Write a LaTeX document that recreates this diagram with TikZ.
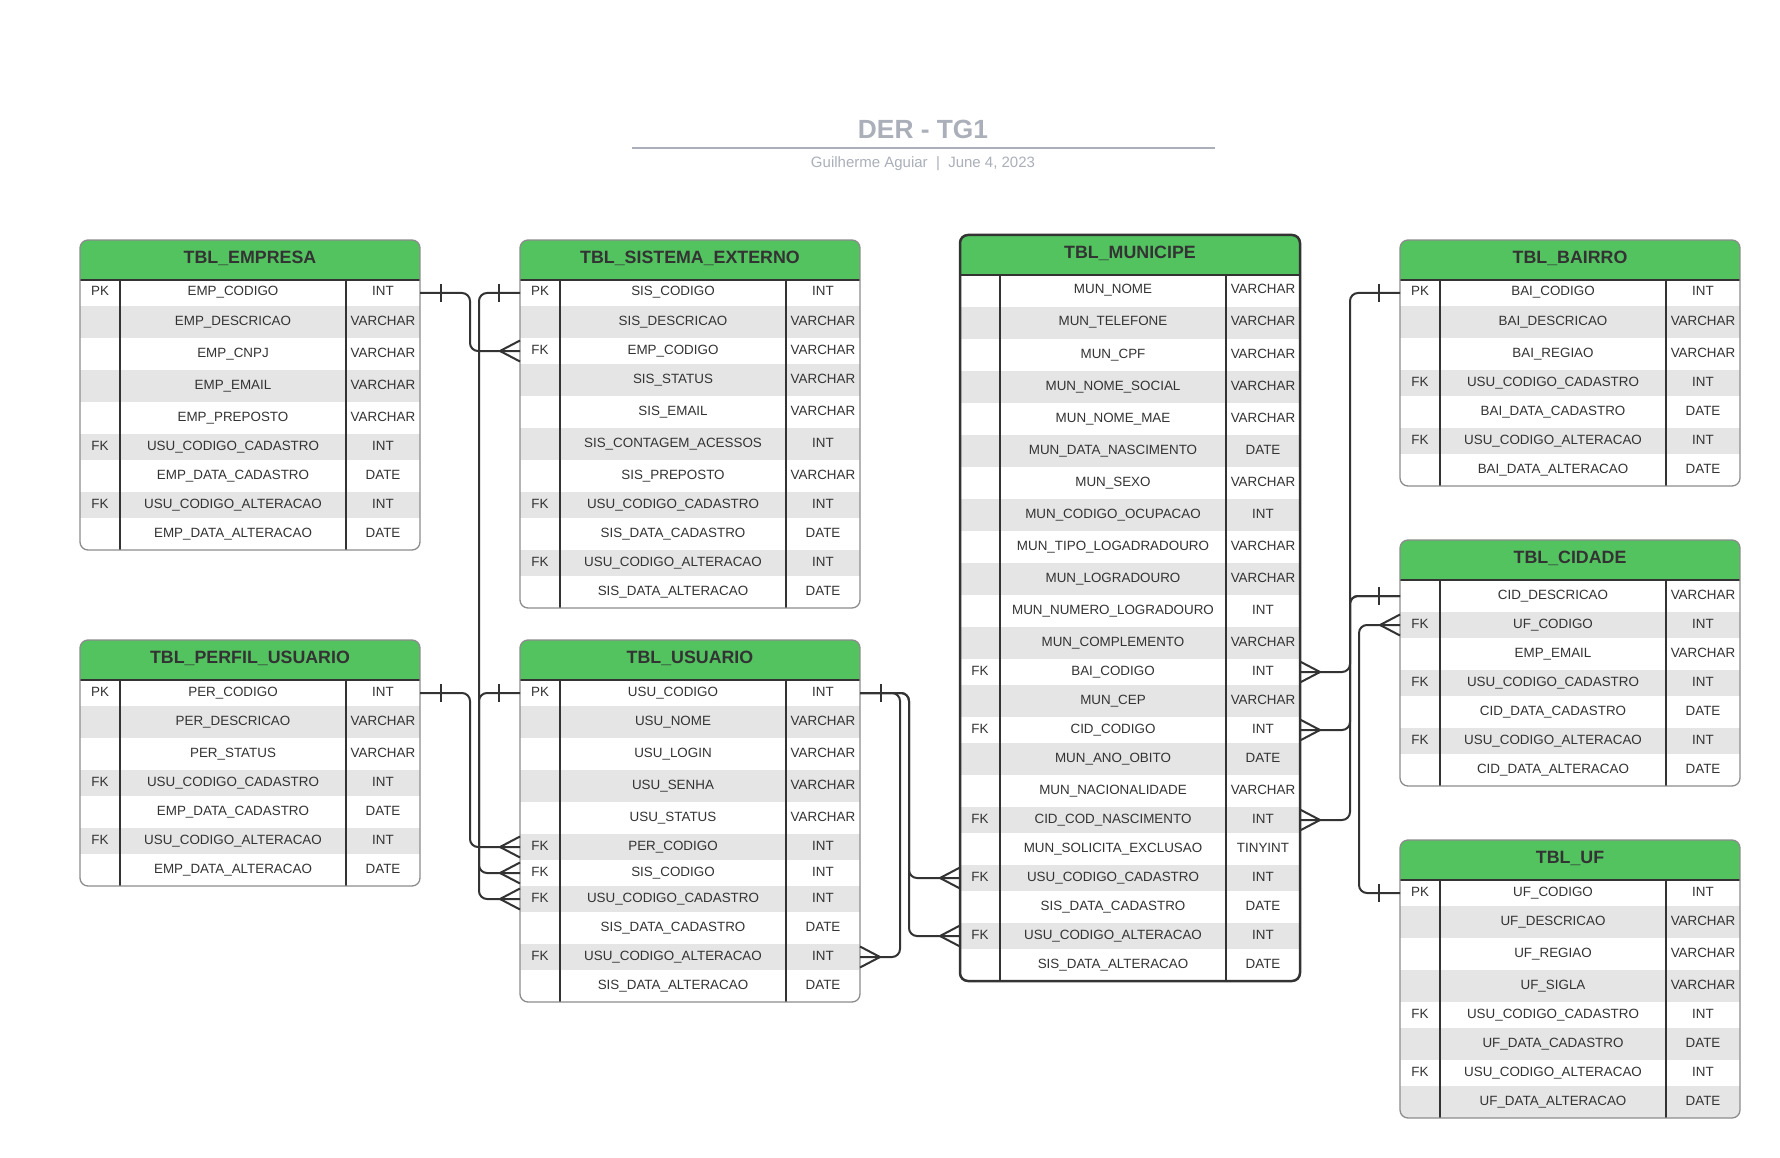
\documentclass[tikz,border=0pt]{standalone}
\usepackage{fontspec}
\setmainfont{Liberation Sans}
\usetikzlibrary{calc}

\definecolor{hdrgreen}{RGB}{83,195,96}
\definecolor{rowgrey}{RGB}{229,229,229}
\definecolor{ink}{RGB}{51,51,51}
\definecolor{tblgrey}{RGB}{140,140,140}
\definecolor{titlegrey}{RGB}{170,175,185}

% table: [border style]{name}{x}{y}{title}{key/field/type, ...}
\newcommand{\ertable}[6][tblline]{%
  \xdef\tblbot{\the\numexpr#4+40\relax}%
  \foreach \k/\f/\t in {#6}{%
    \def\h{26}\if\relax\detokenize\expandafter{\k}\relax\def\h{32}\fi
    \xdef\tblbot{\the\numexpr\tblbot+\h\relax}}%
  \begin{scope}
    \clip[rounded corners=8] (#3,#4) rectangle (#3+340,\tblbot);
    \fill[hdrgreen] (#3,#4) rectangle (#3+340,#4+40);
    \xdef\rowtop{\the\numexpr#4+40\relax}%
    \foreach \k/\f/\t [count=\i] in {#6}{%
      \def\h{26}\if\relax\detokenize\expandafter{\k}\relax\def\h{32}\fi
      \ifodd\i\def\rc{white}\else\def\rc{rowgrey}\fi
      \node[rowbox, fill=\rc, minimum height=\h] (#2\i) at (#3+170,\rowtop+\h/2) {};
      \node[cell] (#2\i-k) at ($(#2\i.center)+(-150,3)$) {\k};
      \node[cell] (#2\i-f) at ($(#2\i.center)+(-17,3)$) {\f};
      \node[cell] (#2\i-t) at ($(#2\i.center)+(133,3)$) {\t};
      \xdef\rowtop{\the\numexpr\rowtop+\h\relax}}%
  \end{scope}
  \node[tbltitle] (#2-title) at (#3+170,#4+23.4) {#5};
  \draw[coldiv] (#3,#4+40) -- (#3+340,#4+40)
    (#3+40,#4+40) -- (#3+40,\tblbot) (#3+266,#4+40) -- (#3+266,\tblbot);
  \draw[#1, rounded corners=8] (#3,#4) rectangle (#3+340,\tblbot);
}
% ends of a relationship
\newcommand{\onemark}[2]{\draw[ermark] ($(#1)+(#2*21,-9)$) -- ++(0,18);}
\newcommand{\manymark}[2]{\draw[ermark] ($(#1)+(0,-10.5)$) -- ($(#1)+(#2*20,0)$) -- ($(#1)+(0,10.5)$);}

\begin{document}
\begin{tikzpicture}[x=1pt, y=-1pt,
    cell/.style={inner sep=0, anchor=base, text=ink, font=\fontsize{13.4}{16}\selectfont},
    rowbox/.style={rectangle, inner sep=0, outer sep=0, minimum width=340},
    tbltitle/.style={inner sep=0, anchor=base, text=ink, font=\bfseries\fontsize{17.8}{20}\selectfont},
    tblline/.style={draw=tblgrey, line width=1.3},
    tblsel/.style={draw=ink, line width=2.5},
    coldiv/.style={draw=ink, line width=1.2},
    conn/.style={draw=ink, line width=2, rounded corners=8},
    ermark/.style={draw=ink, line width=2}]
  \fill[white] (0,0) rectangle (1780,1158);
  \useasboundingbox (0,0) rectangle (1780,1158);

  \node[anchor=base, text=titlegrey, font=\bfseries\fontsize{26.3}{30}\selectfont] (title) at (923,138.4) {DER - TG1};
  \draw[titlegrey, line width=2] (632,147.6) -- (1215,147.6);
  \node[anchor=base, text=titlegrey, font=\fontsize{15}{18}\selectfont] (author) at (923,168) {Guilherme Aguiar~~|~~June 4, 2023};

  \ertable{emp}{80}{240}{TBL\_EMPRESA}{%
    PK/EMP\_CODIGO/INT,
    /EMP\_DESCRICAO/VARCHAR,
    /EMP\_CNPJ/VARCHAR,
    /EMP\_EMAIL/VARCHAR,
    /EMP\_PREPOSTO/VARCHAR,
    FK/USU\_CODIGO\_CADASTRO/INT,
    /EMP\_DATA\_CADASTRO/DATE,
    FK/USU\_CODIGO\_ALTERACAO/INT,
    /EMP\_DATA\_ALTERACAO/DATE}
  \ertable{sis}{520}{240}{TBL\_SISTEMA\_EXTERNO}{%
    PK/SIS\_CODIGO/INT,
    /SIS\_DESCRICAO/VARCHAR,
    FK/EMP\_CODIGO/VARCHAR,
    /SIS\_STATUS/VARCHAR,
    /SIS\_EMAIL/VARCHAR,
    /SIS\_CONTAGEM\_ACESSOS/INT,
    /SIS\_PREPOSTO/VARCHAR,
    FK/USU\_CODIGO\_CADASTRO/INT,
    /SIS\_DATA\_CADASTRO/DATE,
    FK/USU\_CODIGO\_ALTERACAO/INT,
    /SIS\_DATA\_ALTERACAO/DATE}
  \ertable{per}{80}{640}{TBL\_PERFIL\_USUARIO}{%
    PK/PER\_CODIGO/INT,
    /PER\_DESCRICAO/VARCHAR,
    /PER\_STATUS/VARCHAR,
    FK/USU\_CODIGO\_CADASTRO/INT,
    /EMP\_DATA\_CADASTRO/DATE,
    FK/USU\_CODIGO\_ALTERACAO/INT,
    /EMP\_DATA\_ALTERACAO/DATE}
  \ertable{usu}{520}{640}{TBL\_USUARIO}{%
    PK/USU\_CODIGO/INT,
    /USU\_NOME/VARCHAR,
    /USU\_LOGIN/VARCHAR,
    /USU\_SENHA/VARCHAR,
    /USU\_STATUS/VARCHAR,
    FK/PER\_CODIGO/INT,
    FK/SIS\_CODIGO/INT,
    FK/USU\_CODIGO\_CADASTRO/INT,
    /SIS\_DATA\_CADASTRO/DATE,
    FK/USU\_CODIGO\_ALTERACAO/INT,
    /SIS\_DATA\_ALTERACAO/DATE}
  \ertable[tblsel]{mun}{960}{235}{TBL\_MUNICIPE}{%
    /MUN\_NOME/VARCHAR,
    /MUN\_TELEFONE/VARCHAR,
    /MUN\_CPF/VARCHAR,
    /MUN\_NOME\_SOCIAL/VARCHAR,
    /MUN\_NOME\_MAE/VARCHAR,
    /MUN\_DATA\_NASCIMENTO/DATE,
    /MUN\_SEXO/VARCHAR,
    /MUN\_CODIGO\_OCUPACAO/INT,
    /MUN\_TIPO\_LOGADRADOURO/VARCHAR,
    /MUN\_LOGRADOURO/VARCHAR,
    /MUN\_NUMERO\_LOGRADOURO/INT,
    /MUN\_COMPLEMENTO/VARCHAR,
    FK/BAI\_CODIGO/INT,
    /MUN\_CEP/VARCHAR,
    FK/CID\_CODIGO/INT,
    /MUN\_ANO\_OBITO/DATE,
    /MUN\_NACIONALIDADE/VARCHAR,
    FK/CID\_COD\_NASCIMENTO/INT,
    /MUN\_SOLICITA\_EXCLUSAO/TINYINT,
    FK/USU\_CODIGO\_CADASTRO/INT,
    /SIS\_DATA\_CADASTRO/DATE,
    FK/USU\_CODIGO\_ALTERACAO/INT,
    /SIS\_DATA\_ALTERACAO/DATE}
  \ertable{bai}{1400}{240}{TBL\_BAIRRO}{%
    PK/BAI\_CODIGO/INT,
    /BAI\_DESCRICAO/VARCHAR,
    /BAI\_REGIAO/VARCHAR,
    FK/USU\_CODIGO\_CADASTRO/INT,
    /BAI\_DATA\_CADASTRO/DATE,
    FK/USU\_CODIGO\_ALTERACAO/INT,
    /BAI\_DATA\_ALTERACAO/DATE}
  \ertable{cid}{1400}{540}{TBL\_CIDADE}{%
    /CID\_DESCRICAO/VARCHAR,
    FK/UF\_CODIGO/INT,
    /EMP\_EMAIL/VARCHAR,
    FK/USU\_CODIGO\_CADASTRO/INT,
    /CID\_DATA\_CADASTRO/DATE,
    FK/USU\_CODIGO\_ALTERACAO/INT,
    /CID\_DATA\_ALTERACAO/DATE}
  \ertable{uf}{1400}{840}{TBL\_UF}{%
    PK/UF\_CODIGO/INT,
    /UF\_DESCRICAO/VARCHAR,
    /UF\_REGIAO/VARCHAR,
    /UF\_SIGLA/VARCHAR,
    FK/USU\_CODIGO\_CADASTRO/INT,
    /UF\_DATA\_CADASTRO/DATE,
    FK/USU\_CODIGO\_ALTERACAO/INT,
    /UF\_DATA\_ALTERACAO/DATE}

  % relationships
  \draw[conn] (emp1.east) -- ++(50,0) |- (sis3.west);
  \draw[conn] (sis1.west) -- ++(-41,0) |- (usu7.west);
  \draw[conn] (per1.east) -- ++(50,0) |- (usu6.west);
  \draw[conn] (usu1.west) -- ++(-41,0) |- (usu8.west);
  \draw[conn] (usu1.east) -- ++(40,0) |- (usu10.east);
  \draw[conn] (usu1.east) -- ++(49,0) |- (mun20.west);
  \draw[conn] (usu1.east) -- ++(49,0) |- (mun22.west);
  \draw[conn] (mun13.east) -- ++(50,0) |- (bai1.west);
  \draw[conn] (mun15.east) -- ++(50,0) |- (cid1.west);
  \draw[conn] (mun18.east) -- ++(50,0) |- (cid1.west);
  \draw[conn] (cid2.west) -- ++(-41,0) |- (uf1.west);

  \onemark{emp1.east}{1}   \manymark{sis3.west}{-1}
  \onemark{sis1.west}{-1}  \manymark{usu7.west}{-1}
  \onemark{per1.east}{1}   \manymark{usu6.west}{-1}
  \onemark{usu1.west}{-1}  \manymark{usu8.west}{-1}
  \onemark{usu1.east}{1}   \manymark{usu10.east}{1}
  \manymark{mun20.west}{-1}
  \manymark{mun22.west}{-1}
  \manymark{mun13.east}{1} \onemark{bai1.west}{-1}
  \manymark{mun15.east}{1} \manymark{mun18.east}{1}
  \onemark{cid1.west}{-1}
  \manymark{cid2.west}{-1} \onemark{uf1.west}{-1}
\end{tikzpicture}
\end{document}
